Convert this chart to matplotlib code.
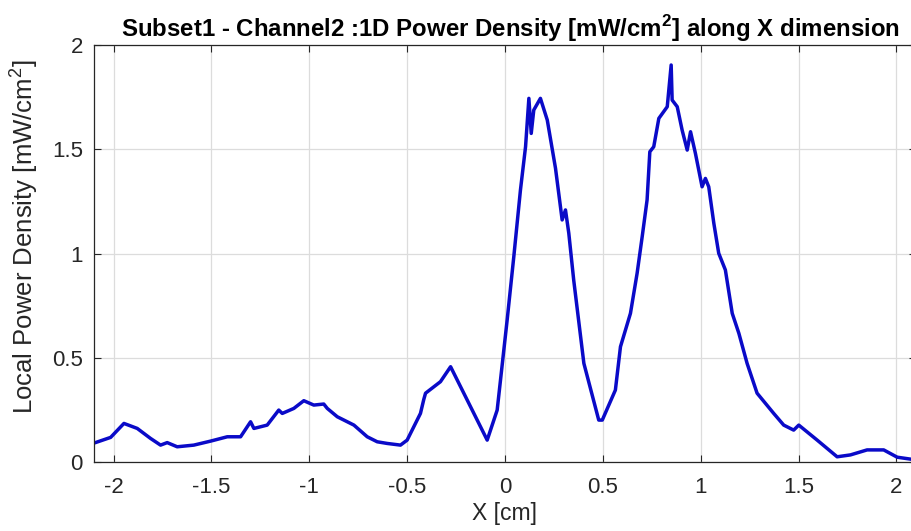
import matplotlib

matplotlib.use("Agg")

import matplotlib.pyplot as plt
from matplotlib.ticker import FuncFormatter

plt.rcParams["font.family"] = ["Liberation Sans", "DejaVu Sans"]
plt.rcParams["axes.unicode_minus"] = False
plt.rcParams["mathtext.fontset"] = "custom"
plt.rcParams["mathtext.rm"] = "Liberation Sans"
plt.rcParams["mathtext.bf"] = "Liberation Sans:bold"

# Values (x in cm, power density in mW/cm^2)
x_cm = [
    -2.096, -2.015, -1.947, -1.879, -1.811, -1.76, -1.726, -1.675, -1.59,
    -1.505, -1.419, -1.351, -1.30, -1.283, -1.215, -1.156, -1.138, -1.079,
    -1.028, -0.977, -0.926, -0.908, -0.857, -0.772, -0.704, -0.653, -0.602,
    -0.534, -0.50, -0.432, -0.415, -0.406, -0.33, -0.278, -0.091, -0.04,
    0.011, 0.045, 0.079, 0.105, 0.122, 0.134, 0.147, 0.181, 0.216, 0.258,
    0.292, 0.309, 0.326, 0.351, 0.403, 0.479, 0.497, 0.564, 0.59, 0.641,
    0.675, 0.701, 0.726, 0.74, 0.76, 0.786, 0.829, 0.849, 0.854, 0.88,
    0.905, 0.931, 0.948, 0.973, 1.007, 1.024, 1.041, 1.067, 1.092, 1.126,
    1.161, 1.195, 1.237, 1.288, 1.373, 1.424, 1.475, 1.501, 1.595, 1.697,
    1.765, 1.85, 1.935, 2.004, 2.1,
]
power = [
    0.092, 0.118, 0.185, 0.161, 0.113, 0.081, 0.093, 0.073, 0.081,
    0.100, 0.121, 0.121, 0.193, 0.161, 0.177, 0.249, 0.233, 0.257,
    0.294, 0.273, 0.278, 0.257, 0.217, 0.177, 0.121, 0.097, 0.089,
    0.081, 0.105, 0.233, 0.30, 0.33, 0.385, 0.457, 0.105, 0.249,
    0.681, 0.985, 1.305, 1.512, 1.744, 1.576, 1.688, 1.744, 1.64, 1.409,
    1.161, 1.209, 1.097, 0.873, 0.473, 0.201, 0.201, 0.345, 0.553, 0.713,
    0.905, 1.081, 1.257, 1.488, 1.512, 1.648, 1.704, 1.904, 1.736, 1.704,
    1.592, 1.496, 1.584, 1.48, 1.32, 1.36, 1.32, 1.145, 1.001, 0.921,
    0.713, 0.617, 0.473, 0.33, 0.233, 0.177, 0.153, 0.177, 0.105, 0.025,
    0.034, 0.058, 0.058, 0.023, 0.010,
]
x_ticks = [-2, -1.5, -1, -0.5, 0, 0.5, 1, 1.5, 2]
y_ticks = [0, 0.5, 1, 1.5, 2]

fig = plt.figure(figsize=(9.11, 5.31), dpi=100)
ax = fig.add_axes([94 / 911, 69 / 531, 822 / 911, 417 / 531])

ax.plot(x_cm, power, color="#0a0ac8", linewidth=2.5)

ax.set_xlim(-2.1, 2.1)
ax.set_ylim(0, 2)
ax.set_xticks(x_ticks)
ax.set_yticks(y_ticks)
fmt = FuncFormatter(lambda v, _: f"{v:g}")
ax.xaxis.set_major_formatter(fmt)
ax.yaxis.set_major_formatter(fmt)
ax.tick_params(direction="in", length=5, width=0.8, colors="#262626",
               labelsize=16, top=True, right=True)
ax.tick_params(axis="x", pad=11)
ax.tick_params(axis="y", pad=8)
ax.grid(True, color="#dcdcdc", linewidth=0.9)
ax.set_axisbelow(True)
for s in ax.spines.values():
    s.set_color("#262626")
    s.set_linewidth(0.9)

ax.set_xlabel("X [cm]", fontsize=16.5, color="#262626", labelpad=3)
ax.set_ylabel("Local Power Density [mW/cm$^{2}$]", fontsize=18.5,
              color="#262626")
ax.yaxis.set_label_coords(-0.066, 0.54)
ax.set_title("Subset1 - Channel2 :1D Power Density [mW/cm$^{\\mathbf{2}}$] along X dimension",
             fontsize=17.3, fontweight="bold", pad=6, x=0.507)

fig.savefig("out.png", dpi=100)
plt.close(fig)
